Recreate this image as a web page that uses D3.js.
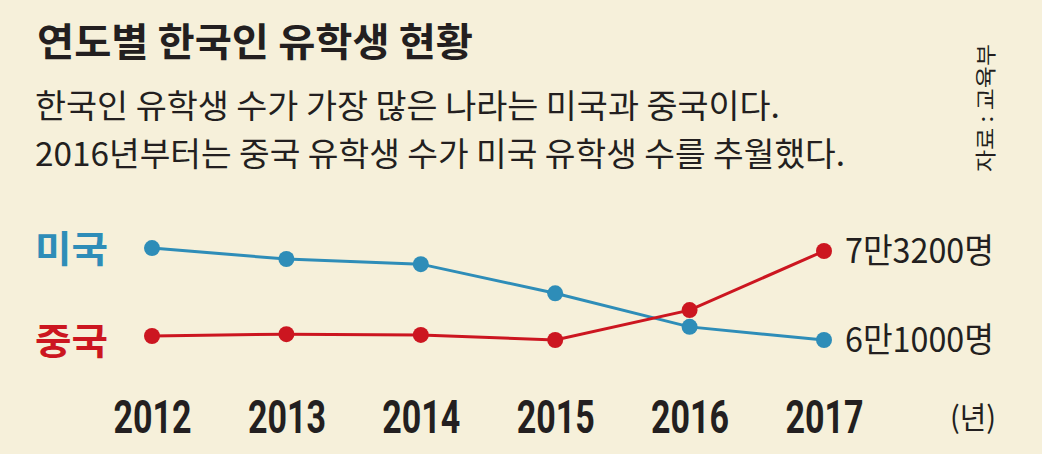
<!DOCTYPE html>
<html>
<head>
<meta charset="utf-8">
<script src="https://cdn.jsdelivr.net/npm/d3@7"></script>
<style>
  body { margin: 0; background: #f6f0da; }
  svg { display: block; font-family: "Noto Sans CJK KR", "Noto Sans", sans-serif; }
</style>
</head>
<body>
<svg id="chart"></svg>
<script>
// data
var years = [2012, 2013, 2014, 2015, 2016, 2017];
var usa = [73600, 72100, 71400, 67400, 62800, 61000];
var china = [61550, 61800, 61700, 61000, 65100, 73200];
var seriesNames = ["미국", "중국"];
var endLabels = ["6만1000명", "7만3200명"];

var width = 1042, height = 454;
var ink = "#231f20", blue = "#2e8db8", red = "#cc1620";

var svg = d3.select("#chart")
  .attr("width", width)
  .attr("height", height);

svg.append("rect")
  .attr("width", width).attr("height", height)
  .attr("fill", "#f6f0da");

// helper for condensed text
function label(x, y, str, size, weight, len, color, anchor) {
  var t = svg.append("text")
    .attr("x", x).attr("y", y)
    .attr("font-size", size)
    .attr("font-weight", weight)
    .attr("fill", color || ink)
    .attr("text-anchor", anchor || "start")
    .text(str);
  if (len) t.attr("textLength", len).attr("lengthAdjust", "spacingAndGlyphs");
  return t;
}

// title + subtitle
label(37, 56, "연도별 한국인 유학생 현황", 39, 700, 436);
label(35, 118, "한국인 유학생 수가 가장 많은 나라는 미국과 중국이다.", 33, 400, 745);
label(35, 166, "2016년부터는 중국 유학생  수가 미국 유학생 수를 추월했다.", 33, 400, 810);

// source, rotated
svg.append("text")
  .attr("transform", "translate(993,108) rotate(-90)")
  .attr("text-anchor", "middle")
  .attr("font-size", 21)
  .attr("fill", ink)
  .attr("textLength", 128).attr("lengthAdjust", "spacingAndGlyphs")
  .text("자료 : 교육부");

var x = d3.scalePoint()
  .domain(years)
  .range([152, 824]);

var y = d3.scaleLinear()
  .domain([61000, 73200])
  .range([340, 251]);

// year axis
var xAxis = svg.append("g")
  .attr("transform", "translate(0,433)")
  .call(d3.axisBottom(x).tickSize(0).tickPadding(0));
xAxis.select(".domain").remove();
xAxis.selectAll("text")
  .attr("y", 0).attr("dy", 0)
  .style("font-family", "Roboto, sans-serif")
  .style("font-size", "46px")
  .style("font-weight", 700)
  .attr("fill", ink)
  .attr("textLength", 78)
  .attr("lengthAdjust", "spacingAndGlyphs");

label(973, 428, "(년)", 30, 400, 46, ink, "middle");

var line = d3.line()
  .x(function (d, i) { return x(years[i]); })
  .y(function (d) { return y(d); });

var series = [
  { name: seriesNames[0], values: usa, color: blue, labelY: 263, end: endLabels[0] },
  { name: seriesNames[1], values: china, color: red, labelY: 355, end: endLabels[1] }
];

series.forEach(function (s) {
  svg.append("path")
    .datum(s.values)
    .attr("d", line)
    .attr("fill", "none")
    .attr("stroke", s.color)
    .attr("stroke-width", 3);

  svg.selectAll(null)
    .data(s.values)
    .enter()
    .append("circle")
      .attr("cx", function (d, i) { return x(years[i]); })
      .attr("cy", function (d) { return y(d); })
      .attr("r", 8)
      .attr("fill", s.color);

  label(35, s.labelY, s.name, 37, 700, 73, s.color);

  var last = s.values[s.values.length - 1];
  label(845, y(last) + 12, s.end, 34, 400, 149, ink);
});
</script>
</body>
</html>
